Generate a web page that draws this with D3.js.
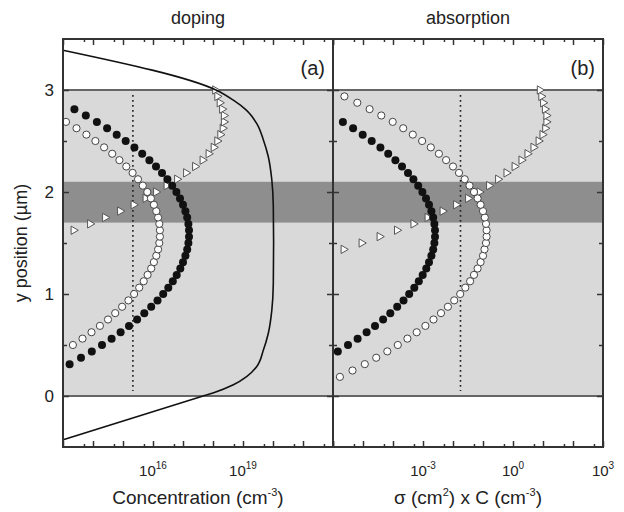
<!DOCTYPE html>
<html>
<head>
<meta charset="utf-8">
<script src="https://cdn.jsdelivr.net/npm/d3@7"></script>
<style>
body { margin: 0; background: #fff; }
text { font-family: 'Liberation Sans', Arial, sans-serif; fill: #222; }
</style>
</head>
<body>
<svg id="chart" width="624" height="512"></svg>
<script>
// depth positions (um) of the markers, one every 1/16 um
const yPos = [0, 0.0625, 0.125, 0.1875, 0.25, 0.3125, 0.375, 0.4375, 0.5, 0.5625,
    0.625, 0.6875, 0.75, 0.8125, 0.875, 0.9375, 1, 1.0625, 1.125, 1.1875,
    1.25, 1.3125, 1.375, 1.4375, 1.5, 1.5625, 1.625, 1.6875, 1.75, 1.8125,
    1.875, 1.9375, 2, 2.0625, 2.125, 2.1875, 2.25, 2.3125, 2.375, 2.4375,
    2.5, 2.5625, 2.625, 2.6875, 2.75, 2.8125, 2.875, 2.9375, 3];

// (a) doping, log10 of concentration (cm^-3)
const dopBlack = [null, null, null, null, null, 13.22, 13.60, 13.96, 14.30, 14.62,
    14.92, 15.20, 15.47, 15.71, 15.94, 16.15, 16.34, 16.51, 16.66, 16.79,
    16.91, 17.00, 17.08, 17.14, 17.18, 17.20, 17.20, 17.18, 17.14, 17.08,
    17.00, 16.90, 16.78, 16.64, 16.48, 16.30, 16.10, 15.88, 15.64, 15.38,
    15.09, 14.79, 14.47, 14.13, 13.76, 13.38, null, null, null];
const dopOpen = [null, null, null, null, null, null, null, null, 13.33, 13.65,
    13.95, 14.23, 14.50, 14.74, 14.97, 15.18, 15.37, 15.54, 15.69, 15.82,
    15.94, 16.03, 16.11, 16.17, 16.21, 16.23, 16.23, 16.21, 16.17, 16.11,
    16.03, 15.93, 15.81, 15.66, 15.50, 15.32, 15.11, 14.88, 14.64, 14.37,
    14.08, 13.78, 13.45, 13.10, null, null, null, null, null];
const dopTri = [null, null, null, null, null, null, null, null, null, null,
    null, null, null, null, null, null, null, null, null, null,
    null, null, null, null, null, null, 13.35, 13.90, 14.40, 14.90,
    15.35, 15.75, 16.10, 16.45, 16.80, 17.10, 17.40, 17.65, 17.85, 18.02,
    18.14, 18.24, 18.32, 18.36, 18.36, 18.30, 18.22, 18.14, 18.07];

// doping profile (solid line)
const profY = [3.39, 3.0, 2.9, 2.8, 2.67, 2.51, 2.35, 2.12, 1.86, 1.5,
    1.1, 0.84, 0.61, 0.45, 0.29, 0.19, 0.11, 0.03, 0.0, -0.43];
const profExp = [13.0, 18.1, 18.68, 19.12, 19.46, 19.68, 19.84, 19.96, 20.01, 20.02,
    20.01, 19.96, 19.84, 19.68, 19.46, 19.12, 18.68, 18.0, 17.67, 13.0];

// (b) absorption, log10 of sigma x C
const absBlack = [null, null, null, null, null, null, null, -5.84, -5.50, -5.18,
    -4.88, -4.60, -4.33, -4.09, -3.86, -3.65, -3.46, -3.29, -3.14, -3.01,
    -2.89, -2.80, -2.72, -2.66, -2.62, -2.60, -2.60, -2.62, -2.66, -2.72,
    -2.80, -2.90, -3.02, -3.16, -3.32, -3.50, -3.70, -3.92, -4.16, -4.42,
    -4.71, -5.01, -5.33, -5.67, null, null, null, null, null];
const absOpen = [null, null, null, -5.77, -5.35, -4.94, -4.56, -4.19, -3.84, -3.52,
    -3.21, -2.92, -2.65, -2.40, -2.17, -1.96, -1.76, -1.59, -1.43, -1.30,
    -1.18, -1.08, -1.00, -0.95, -0.90, -0.88, -0.88, -0.90, -0.94, -1.00,
    -1.08, -1.18, -1.30, -1.45, -1.61, -1.80, -2.00, -2.23, -2.47, -2.74,
    -3.03, -3.34, -3.66, -4.01, -4.39, -4.78, -5.19, -5.62, null];
const absTri = [null, null, null, null, null, null, null, null, null, null,
    null, null, null, null, null, null, null, null, null, null,
    null, null, null, -5.65, -5.05, -4.45, -3.87, -3.32, -2.85, -2.35,
    -1.90, -1.50, -1.12, -0.80, -0.50, -0.22, 0.05, 0.28, 0.48, 0.68,
    0.85, 0.98, 1.07, 1.11, 1.11, 1.06, 1.00, 0.94, 0.89];

// dotted reference lines (log10)
const dopDot = 15.33;
const absDot = -1.75;

const yTicks = [0, 1, 2, 3];
const dopLabels = [16, 19];
const absLabels = [-3, 0, 3];

const plot = {left: 63, top: 39, bottom: 447, panelW: 270};
const svg = d3.select('#chart');

const y = d3.scaleLinear()
    .domain([-0.5, 3.5])
    .range([plot.bottom, plot.top]);

const panels = [
    {x0: plot.left, lo: 13, hi: 22, black: dopBlack, open: dopOpen, tri: dopTri,
        dot: dopDot, labels: dopLabels, tag: '(a)', title: 'doping'},
    {x0: plot.left + plot.panelW, lo: -6, hi: 3, black: absBlack, open: absOpen, tri: absTri,
        dot: absDot, labels: absLabels, tag: '(b)', title: 'absorption'}
];

function pairs(arr) {
    return arr.map(function(v, i) { return [v, yPos[i]]; })
        .filter(function(d) { return d[0] !== null; });
}

panels.forEach(function(p, pi) {
    const x = d3.scaleLog()
        .domain([10 ** p.lo, 10 ** p.hi])
        .range([p.x0, p.x0 + plot.panelW]);
    const g = svg.append('g');

    // layers
    g.append('rect')
        .attr('x', p.x0).attr('width', plot.panelW)
        .attr('y', y(3)).attr('height', y(0) - y(3))
        .attr('fill', '#d9d9d9');
    g.append('rect')
        .attr('x', p.x0).attr('width', plot.panelW)
        .attr('y', y(2.1)).attr('height', y(1.7) - y(2.1))
        .attr('fill', '#8e8e8e');
    g.selectAll('.edge').data([0, 3]).join('line')
        .attr('x1', p.x0).attr('x2', p.x0 + plot.panelW)
        .attr('y1', d => y(d)).attr('y2', d => y(d))
        .attr('stroke', '#666').attr('stroke-width', 2);

    g.append('line')
        .attr('x1', x(10 ** p.dot)).attr('x2', x(10 ** p.dot))
        .attr('y1', y(2.95)).attr('y2', y(0.05))
        .attr('stroke', '#222').attr('stroke-width', 1.6)
        .attr('stroke-dasharray', '1.6,3.4');

    g.selectAll('.tri').data(pairs(p.tri)).join('path')
        .attr('d', d3.symbol(d3.symbolTriangle, 30))
        .attr('transform', d => 'translate(' + x(10 ** d[0]) + ',' + y(d[1]) + ') rotate(90)')
        .attr('fill', '#fff').attr('stroke', '#555').attr('stroke-width', 1);

    g.selectAll('.open').data(pairs(p.open)).join('circle')
        .attr('cx', d => x(10 ** d[0])).attr('cy', d => y(d[1]))
        .attr('r', 3.6)
        .attr('fill', '#fff').attr('stroke', '#444').attr('stroke-width', 1);

    g.selectAll('.black').data(pairs(p.black)).join('circle')
        .attr('cx', d => x(10 ** d[0])).attr('cy', d => y(d[1]))
        .attr('r', 4)
        .attr('fill', '#111');

    if (pi === 0) {
        const line = d3.line()
            .x(d => x(10 ** d[0]))
            .y(d => y(d[1]))
            .curve(d3.curveMonotoneY);
        g.append('path')
            .datum(profExp.map((v, i) => [v, profY[i]]))
            .attr('d', line)
            .attr('fill', 'none').attr('stroke', '#111').attr('stroke-width', 1.6);
    }

    // frame
    g.append('rect')
        .attr('x', p.x0).attr('y', plot.top)
        .attr('width', plot.panelW).attr('height', plot.bottom - plot.top)
        .attr('fill', 'none').attr('stroke', '#333').attr('stroke-width', 2);

    // ticks, all pointing inwards
    const major = d3.range(p.lo, p.hi + 1).map(e => 10 ** e);
    const minor = d3.range(p.lo, p.hi).map(e => 5 * 10 ** e);
    const axes = [
        [d3.axisBottom(x), 'translate(0,' + plot.bottom + ')', major, 6],
        [d3.axisBottom(x), 'translate(0,' + plot.bottom + ')', minor, 3],
        [d3.axisTop(x), 'translate(0,' + plot.top + ')', major, 6],
        [d3.axisTop(x), 'translate(0,' + plot.top + ')', minor, 3],
        [d3.axisLeft(y), 'translate(' + p.x0 + ',0)', yTicks, 6],
        [d3.axisLeft(y), 'translate(' + p.x0 + ',0)', [0.5, 1.5, 2.5], 4],
        [d3.axisRight(y), 'translate(' + (p.x0 + plot.panelW) + ',0)', yTicks, 6],
        [d3.axisRight(y), 'translate(' + (p.x0 + plot.panelW) + ',0)', [0.5, 1.5, 2.5], 4]
    ];
    axes.forEach(function(a) {
        g.append('g')
            .attr('transform', a[1])
            .attr('color', '#333')
            .call(a[0].tickValues(a[2]).tickSize(-a[3]).tickFormat(''))
            .call(s => s.select('.domain').remove())
            .call(s => s.selectAll('line').attr('stroke-width', 1.5));
    });

    // tick labels with powers of ten
    p.labels.forEach(function(e) {
        const t = g.append('text')
            .attr('x', x(10 ** e)).attr('y', 476)
            .attr('text-anchor', 'middle')
            .attr('font-size', 15);
        t.append('tspan').text('10');
        t.append('tspan').attr('dy', -7).attr('font-size', 10).text(e);
    });

    g.append('text')
        .attr('x', p.x0 + plot.panelW / 2).attr('y', 24)
        .attr('text-anchor', 'middle').attr('font-size', 18)
        .text(p.title);
    g.append('text')
        .attr('x', p.x0 + plot.panelW - 8).attr('y', 75)
        .attr('text-anchor', 'end').attr('font-size', 20)
        .text(p.tag);
});

// y tick labels
svg.append('g').selectAll('text').data(yTicks).join('text')
    .attr('x', 54).attr('y', d => y(d) + 6)
    .attr('text-anchor', 'end').attr('font-size', 17)
    .text(d => d);

svg.append('text')
    .attr('transform', 'translate(27,243) rotate(-90)')
    .attr('text-anchor', 'middle').attr('font-size', 18)
    .text('y position (\u00b5m)');

const xt1 = svg.append('text')
    .attr('x', 198).attr('y', 504)
    .attr('text-anchor', 'middle').attr('font-size', 19);
xt1.append('tspan').text('Concentration (cm');
xt1.append('tspan').attr('dy', -8).attr('font-size', 11).text('-3');
xt1.append('tspan').attr('dy', 8).text(')');

const xt2 = svg.append('text')
    .attr('x', 468).attr('y', 504)
    .attr('text-anchor', 'middle').attr('font-size', 19);
xt2.append('tspan').text('\u03c3 (cm');
xt2.append('tspan').attr('dy', -8).attr('font-size', 11).text('2');
xt2.append('tspan').attr('dy', 8).text(') x C (cm');
xt2.append('tspan').attr('dy', -8).attr('font-size', 11).text('-3');
xt2.append('tspan').attr('dy', 8).text(')');
</script>
</body>
</html>
